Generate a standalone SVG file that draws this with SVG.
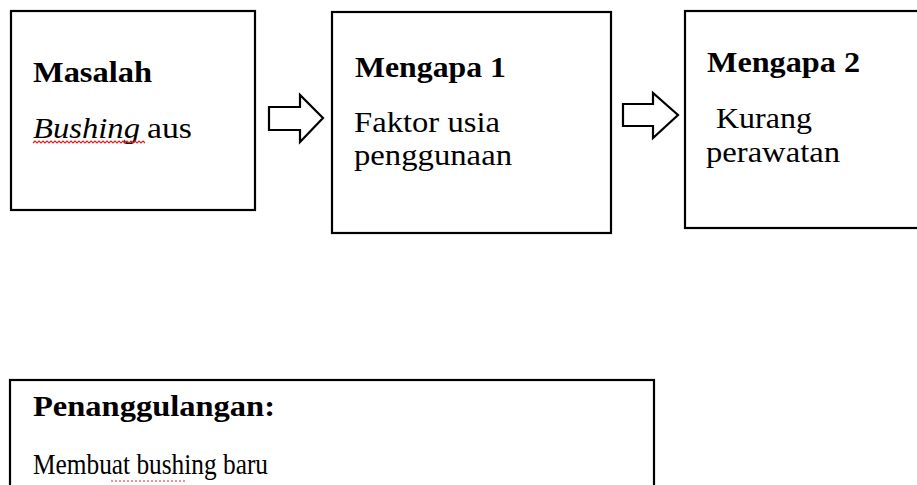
<svg xmlns="http://www.w3.org/2000/svg" width="917" height="485" viewBox="0 0 917 485">
<style>
.box{fill:#fff;stroke:#000;stroke-width:2.2}
.arrow{fill:#fff;stroke:#000;stroke-width:2.2;stroke-linejoin:miter}
.h{font-family:"Liberation Serif","Times New Roman",serif;font-weight:bold;font-size:29px;fill:#000}
.t{font-family:"Liberation Serif","Times New Roman",serif;font-size:30px;fill:#000}
.sq{fill:none;stroke:#e02020;stroke-width:1.2}
</style>
<rect width="917" height="485" fill="#fff"/>
<g id="masalah">
<rect class="box" x="11" y="11" width="244" height="199"/>
<text class="h" x="33" y="82" textLength="119" lengthAdjust="spacingAndGlyphs">Masalah</text>
<text class="t" x="33" y="138" font-style="italic" textLength="107" lengthAdjust="spacingAndGlyphs">Bushing</text>
<text class="t" x="147" y="138" textLength="45" lengthAdjust="spacingAndGlyphs">aus</text>
<path class="sq" d="M33 143 l2 -2 l2 2 l2 -2 l2 2 l2 -2 l2 2 l2 -2 l2 2 l2 -2 l2 2 l2 -2 l2 2 l2 -2 l2 2 l2 -2 l2 2 l2 -2 l2 2 l2 -2 l2 2 l2 -2 l2 2 l2 -2 l2 2 l2 -2 l2 2 l2 -2 l2 2 l2 -2 l2 2 l2 -2 l2 2 l2 -2 l2 2 l2 -2 l2 2 l2 -2 l2 2 l2 -2 l2 2 l2 -2 l2 2 l2 -2 l2 2 l2 -2 l2 2 l2 -2 l2 2 l2 -2 l2 2 l2 -2 l2 2 l2 -2 l2 2 l2 -2 l2 2"/>
</g>
<g id="mengapa1">
<rect class="box" x="332" y="12" width="279" height="221"/>
<text class="h" x="355" y="77" textLength="151" lengthAdjust="spacingAndGlyphs">Mengapa 1</text>
<text class="t" x="354" y="132" textLength="146" lengthAdjust="spacingAndGlyphs">Faktor usia</text>
<text class="t" x="354" y="165" textLength="158" lengthAdjust="spacingAndGlyphs">penggunaan</text>
</g>
<g id="mengapa2">
<rect class="box" x="685" y="11" width="245" height="217"/>
<text class="h" x="707" y="72" textLength="153" lengthAdjust="spacingAndGlyphs">Mengapa 2</text>
<text class="t" x="716" y="128" textLength="96" lengthAdjust="spacingAndGlyphs">Kurang</text>
<text class="t" x="706" y="162" textLength="134" lengthAdjust="spacingAndGlyphs">perawatan</text>
</g>
<g id="penanggulangan">
<rect class="box" x="10" y="380" width="644" height="130"/>
<text class="h" x="33" y="416" textLength="242" lengthAdjust="spacingAndGlyphs">Penanggulangan:</text>
<text class="t" x="33" y="474" textLength="235" lengthAdjust="spacingAndGlyphs">Membuat bushing baru</text>
<line class="sq" x1="111" y1="481" x2="187" y2="481" stroke-dasharray="2 2"/>
</g>
<g id="connectors">
<polygon class="arrow" points="269,107 300,107 300,95 323,118 300,142 300,130 269,130"/>
<polygon class="arrow" points="623,104 653,104 653,93 678,115 653,138 653,126 623,126"/>
</g>
</svg>
